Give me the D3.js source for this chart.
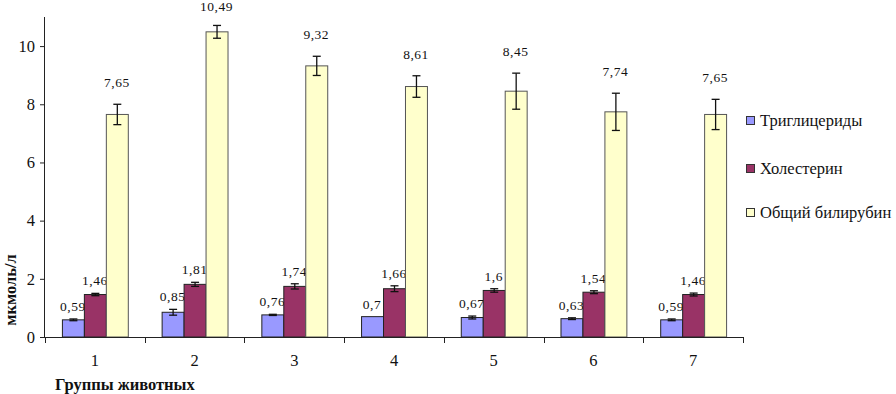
<!DOCTYPE html>
<html><head><meta charset="utf-8">
<script src="https://cdn.jsdelivr.net/npm/d3@7/dist/d3.min.js"></script>
<style>
html,body{margin:0;padding:0;background:#fff;}
svg{display:block;}
svg text{font-family:"Liberation Serif","Times New Roman","DejaVu Serif",serif !important;}
</style></head>
<body><svg id="c" width="896" height="394"></svg>
<script>
const groups = ["1","2","3","4","5","6","7"];
const seriesNames = ["Триглицериды","Холестерин","Общий билирубин"];
const triglycerides = [0.59,0.85,0.76,0.70,0.67,0.63,0.59];
const cholesterol   = [1.46,1.81,1.74,1.66,1.60,1.54,1.46];
const bilirubin     = [7.65,10.49,9.32,8.61,8.45,7.74,7.65];
const trigErr = [0.03,0.10,0.02,0.00,0.05,0.03,0.03];
const cholErr = [0.04,0.07,0.09,0.10,0.06,0.05,0.05];
const biliErr = [0.35,0.22,0.33,0.37,0.62,0.64,0.52];
const trigLabels = ["0,59","0,85","0,76","0,7","0,67","0,63","0,59"];
const cholLabels = ["1,46","1,81","1,74","1,66","1,6","1,54","1,46"];
const biliLabels = ["7,65","10,49","9,32","8,61","8,45","7,74","7,65"];
const yTicks = [0,2,4,6,8,10];
const yTitle = "мкмоль/л";
const xTitle = "Группы животных";

const FONT = '"Liberation Serif","Times New Roman","DejaVu Serif",serif';
const colors = ["#9999ff","#993366","#ffffcc"];
const strokes = ["#222","#222","#555"];
const values = [triglycerides, cholesterol, bilirubin];
const errs = [trigErr, cholErr, biliErr];
const labels = [trigLabels, cholLabels, biliLabels];

const svg = d3.select("#c");
const L = 45, R = 743, T = 17, B = 337;
const x = d3.scaleBand().domain(groups).range([L, R]).paddingInner(0).paddingOuter(0);
const x1 = d3.scaleBand().domain(d3.range(3)).range([0, x.bandwidth()]).paddingInner(0).paddingOuter(0.77);
const y = d3.scaleLinear().domain([0, 11]).range([B, T]);

const items = [];
groups.forEach((g, i) => {
  for (let s = 0; s < 3; s++) items.push({g, s, v: values[s][i], e: errs[s][i], lab: labels[s][i]});
});

// value labels (drawn under bars, as in the reference)
svg.append("g").selectAll("text").data(items).join("text")
  .attr("font-family", FONT)
  .attr("x", d => x(d.g) + x1(d.s) + x1.bandwidth() / 2)
  .attr("y", d => Math.max(11, y(d.v + d.e) - (d.s === 2 ? 17 : 8)))
  .attr("text-anchor", "middle")
  .attr("font-size", 13.5)
  .attr("letter-spacing", 0.5)
  .attr("fill", "#111")
  .text(d => d.lab);

// bars
svg.append("g").selectAll("rect").data(items).join("rect")
  .attr("x", d => x(d.g) + x1(d.s) + 0.5)
  .attr("y", d => y(d.v))
  .attr("width", x1.bandwidth())
  .attr("height", d => B - y(d.v))
  .attr("fill", d => colors[d.s])
  .attr("stroke", d => strokes[d.s])
  .attr("stroke-width", 1);

// error bars
const eg = svg.append("g").attr("stroke", "#111").attr("stroke-width", 1.3);
items.filter(d => d.e > 0).forEach(d => {
  const cx = x(d.g) + x1(d.s) + x1.bandwidth() / 2 + 0.5;
  const y0 = y(d.v - d.e), y1 = y(d.v + d.e);
  eg.append("line").attr("x1", cx).attr("x2", cx).attr("y1", y0).attr("y2", y1);
  eg.append("line").attr("x1", cx - 4).attr("x2", cx + 4).attr("y1", y0).attr("y2", y0);
  eg.append("line").attr("x1", cx - 4).attr("x2", cx + 4).attr("y1", y1).attr("y2", y1);
});

// y axis
const yAxis = svg.append("g").attr("transform", `translate(${L},0)`)
  .call(d3.axisLeft(y).tickValues(yTicks).tickSize(5).tickPadding(5).tickFormat(d3.format("d")));
yAxis.attr("font-family", FONT);
yAxis.select(".domain").attr("d", `M-0.5,${T}V${B}`).attr("stroke", "#222");
yAxis.selectAll(".tick line").attr("stroke", "#222");
yAxis.selectAll(".tick text").attr("font-size", 16.5).attr("font-family", FONT).attr("fill", "#111");

// x axis
svg.append("line").attr("x1", L - 0.5).attr("x2", R).attr("y1", B + 0.5).attr("y2", B + 0.5).attr("stroke", "#222");
const bounds = groups.map(g => x(g)).concat([x(groups[groups.length - 1]) + x.bandwidth()]);
svg.append("g").selectAll("line").data(bounds).join("line")
  .attr("x1", d => Math.round(d) + 0.5).attr("x2", d => Math.round(d) + 0.5)
  .attr("y1", B).attr("y2", B + 6).attr("stroke", "#222");
svg.append("g").selectAll("text").data(groups).join("text")
  .attr("font-family", FONT)
  .attr("x", g => x(g) + x.bandwidth() / 2)
  .attr("y", 366)
  .attr("text-anchor", "middle")
  .attr("font-size", 16.5)
  .attr("fill", "#111")
  .text(g => g);

// titles
svg.append("text").attr("font-family", FONT).attr("x", 55).attr("y", 390).attr("font-size", 16.5).attr("font-weight", "bold").attr("fill", "#111").text(xTitle);
svg.append("text").attr("font-family", FONT).attr("transform", "translate(16,290) rotate(-90)").attr("text-anchor", "middle")
  .attr("font-size", 16.5).attr("font-weight", "bold").attr("fill", "#111").text(yTitle);

// legend
const lg = svg.append("g");
const legY = [116, 164, 208];
seriesNames.forEach((n, i) => {
  lg.append("rect").attr("x", 746.5).attr("y", legY[i] + 0.5).attr("width", 8).attr("height", 8)
    .attr("fill", colors[i]).attr("stroke", "#333");
  lg.append("text").attr("font-family", FONT).attr("x", 760).attr("y", legY[i] + 10).attr("font-size", 16.5).attr("fill", "#111").text(n);
});
</script></body></html>
